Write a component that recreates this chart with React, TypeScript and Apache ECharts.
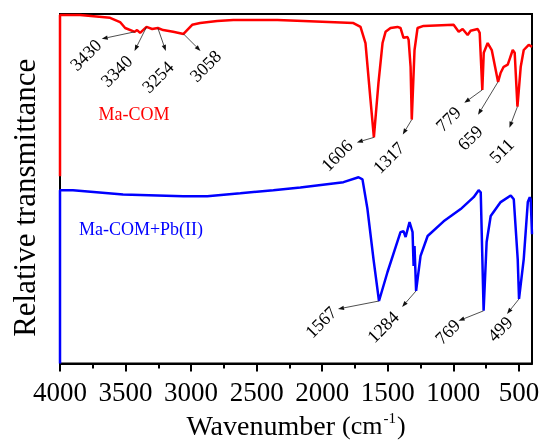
import React, { useEffect, useRef } from "react";
import * as echarts from "echarts";

// ---- data ----
const majorTicks = [4000, 3500, 3000, 2500, 2000, 1500, 1000, 500];
const minorTicks = [3750, 3250, 2750, 2250, 1750, 1250, 750];

const maComWn = [4000, 4000, 3847, 3618, 3542, 3503, 3430, 3412, 3389, 3340, 3297, 3254, 3213, 3137, 3058, 2992, 2931, 2801, 2678, 2342, 2144, 1762, 1708, 1670, 1632, 1606, 1571, 1540, 1517, 1479, 1426, 1403, 1380, 1349, 1341, 1326, 1317, 1296, 1273, 1227, 998, 959, 929, 891, 868, 814, 799, 779, 768, 738, 707, 659, 639, 616, 585, 547, 532, 511, 486, 463, 425, 400];
const maComT = [53.6, 99.7, 99.7, 98.9, 97.7, 96.0, 94.9, 95.4, 94.6, 96.3, 95.7, 96.0, 95.4, 94.9, 94.3, 96.9, 97.4, 98.0, 98.3, 98.3, 98.0, 97.4, 96.3, 91.7, 75.5, 64.7, 80.3, 91.7, 94.9, 96.0, 96.3, 96.0, 93.2, 93.4, 92.6, 84.9, 69.8, 89.7, 96.0, 96.6, 96.9, 94.9, 95.7, 94.0, 95.2, 95.7, 94.6, 78.3, 88.9, 91.7, 89.7, 80.6, 83.2, 84.9, 85.5, 89.7, 88.9, 73.5, 84.9, 89.7, 91.2, 90.6];

const maComPbWn = [4000, 4000, 3901, 3519, 3060, 2877, 2625, 2373, 2167, 1838, 1723, 1693, 1655, 1609, 1567, 1502, 1403, 1380, 1364, 1334, 1311, 1303, 1296, 1284, 1250, 1196, 1074, 944, 845, 807, 791, 769, 746, 715, 639, 562, 539, 509, 499, 463, 432, 417, 410, 400];
const maComPbT = [0, 49.6, 49.6, 48.4, 47.9, 47.9, 48.7, 49.6, 50.4, 51.9, 53.3, 52.7, 44.2, 29.9, 17.9, 26.2, 37.6, 37.9, 36.2, 40.5, 37.6, 27.9, 33.6, 20.8, 30.8, 36.5, 40.7, 44.2, 47.6, 49.6, 49.0, 15.1, 34.8, 42.2, 46.2, 48.1, 47.0, 29.9, 18.5, 29.9, 46.2, 47.6, 47.0, 37.0];

const maComPeaks = [3430, 3340, 3254, 3058, 1606, 1317, 779, 659, 511];
const maComPbPeaks = [1567, 1284, 769, 499];

const seriesNames = ["Ma-COM", "Ma-COM+Pb(II)"];

// ---- layout (pixel offsets of arrow end and label centre from each peak) ----
const maComOffsets = [
  [-33, 7, -49, 23],
  [-12, 24, -30, 44],
  [8, 23, 0, 49],
  [17, 17, 22, 32],
  [-17, 5, -37, 18],
  [-9, 15, -23, 38],
  [-18, 13, -34, 29],
  [-20, 33, -28, 56],
  [-8, 21, -16, 44],
];
const maComPbOffsets = [
  [-41, 8, -58, 21],
  [-14, 16, -33, 36],
  [-25, 10, -36, 21],
  [-12, 15, -19, 30],
];

const serif = "Liberation Serif";

export default function App() {
  const ref = useRef<HTMLDivElement>(null);
  useEffect(() => {
    if (!ref.current) return;
    const chart = echarts.init(ref.current, null, { renderer: "svg" });
    const zip = (a: number[], b: number[]) => a.map((w, i) => [w, b[i]]);
    chart.setOption({
      animation: false,
      textStyle: { fontFamily: serif },
      grid: {
        left: 60,
        right: 12,
        top: 14,
        bottom: 79,
        show: true,
        borderColor: "#000",
        borderWidth: 2,
        backgroundColor: "transparent",
      },
      xAxis: [
        {
          type: "value",
          min: 400,
          max: 4000,
          inverse: true,
          position: "bottom",
          axisLine: { show: true, onZero: false, lineStyle: { color: "#000", width: 2 } },
          axisTick: { show: true, customValues: majorTicks, length: 8, lineStyle: { color: "#000", width: 2 } },
          axisLabel: {
            customValues: majorTicks,
            formatter: (v: number) => String(v),
            fontFamily: serif,
            fontSize: 27,
            color: "#000",
            margin: 15,
          },
          splitLine: { show: false },
          name: "{a|Wavenumber }{b|(cm}{c|-1}{b|)}",
          nameLocation: "middle",
          nameGap: 46,
          nameTextStyle: {
            fontFamily: serif,
            fontSize: 28,
            color: "#000",
            rich: {
              a: { fontFamily: serif, fontSize: 28, color: "#000" },
              b: { fontFamily: serif, fontSize: 26, color: "#000" },
              c: { fontFamily: serif, fontSize: 15, color: "#000", padding: [0, 1, 14, 1] },
            },
          },
        },
        {
          type: "value",
          min: 400,
          max: 4000,
          inverse: true,
          position: "bottom",
          axisLine: { show: false, onZero: false },
          axisTick: { show: true, customValues: minorTicks, length: 5, lineStyle: { color: "#000", width: 2 } },
          axisLabel: { show: false },
          splitLine: { show: false },
        },
      ],
      yAxis: {
        type: "value",
        min: 0,
        max: 100,
        axisLine: { show: true, lineStyle: { color: "#000", width: 2 } },
        axisTick: { show: false },
        axisLabel: { show: false },
        splitLine: { show: false },
        name: "Relative transmittance",
        nameLocation: "middle",
        nameRotate: 90,
        nameGap: 20,
        nameTextStyle: { fontFamily: serif, fontSize: 31, color: "#000", padding: [0, 18, 0, 0] },
      },
      series: [
        {
          name: seriesNames[0],
          type: "line",
          data: zip(maComWn, maComT),
          showSymbol: false,
          lineStyle: { color: "#ff0000", width: 2.5 },
          itemStyle: { color: "#ff0000" },
          z: 3,
        },
        {
          name: seriesNames[1],
          type: "line",
          data: zip(maComPbWn, maComPbT),
          showSymbol: false,
          lineStyle: { color: "#0000ff", width: 2.5 },
          itemStyle: { color: "#0000ff" },
          z: 3,
        },
      ],
    });

    const graphics: any[] = [
      {
        type: "text",
        x: 134,
        y: 114,
        style: { text: seriesNames[0], fontFamily: serif, fontSize: 18, fill: "#ff0000", align: "center", verticalAlign: "middle" },
        z: 10,
      },
      {
        type: "text",
        x: 141,
        y: 229,
        style: { text: seriesNames[1], fontFamily: serif, fontSize: 18, fill: "#0000ff", align: "center", verticalAlign: "middle" },
        z: 10,
      },
    ];

    const addAnn = (wns: number[], vals: number[], peaks: number[], offs: number[][]) => {
      peaks.forEach((p, i) => {
        const v = vals[wns.indexOf(p)];
        const pt = chart.convertToPixel({ xAxisIndex: 0, yAxisIndex: 0 }, [p, v]) as number[];
        const [sx, sy] = pt;
        const [ex, ey, lx, ly] = [sx + offs[i][0], sy + offs[i][1], sx + offs[i][2], sy + offs[i][3]];
        const dx = ex - sx;
        const dy = ey - sy;
        const len = Math.hypot(dx, dy) || 1;
        const ux = dx / len;
        const uy = dy / len;
        const L = 6;
        const W = 2.2;
        const bx = ex - ux * L;
        const by = ey - uy * L;
        graphics.push({
          type: "line",
          shape: { x1: sx, y1: sy, x2: bx, y2: by },
          style: { stroke: "#222", lineWidth: 0.8 },
          z: 10,
        });
        graphics.push({
          type: "polygon",
          shape: { points: [[ex, ey], [bx - uy * W, by + ux * W], [bx + uy * W, by - ux * W]] },
          style: { fill: "#111" },
          z: 10,
        });
        graphics.push({
          type: "text",
          x: lx,
          y: ly,
          rotation: Math.PI / 4,
          style: { text: String(p), fontFamily: serif, fontSize: 18, fill: "#000", align: "center", verticalAlign: "middle" },
          z: 10,
        });
      });
    };
    addAnn(maComWn, maComT, maComPeaks, maComOffsets);
    addAnn(maComPbWn, maComPbT, maComPbPeaks, maComPbOffsets);
    chart.setOption({ graphic: graphics });

    return () => chart.dispose();
  }, []);
  return <div ref={ref} style={{ position: "fixed", left: 0, top: 0, width: 544, height: 444 }} />;
}
